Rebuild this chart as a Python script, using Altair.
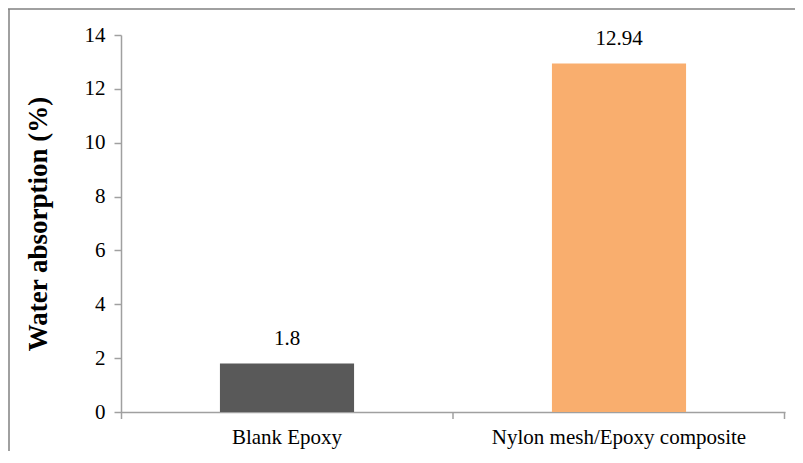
import altair as alt
import pandas as pd

categories = ["Blank Epoxy", "Nylon mesh/Epoxy composite"]
values = [1.8, 12.94]
colors = ["#595959", "#F9AE6E"]
y_ticks = [0, 2, 4, 6, 8, 10, 12, 14]

df = pd.DataFrame({"cat": categories, "val": values, "color": colors})

FONT = "Liberation Serif"
AX = "#A0A0A0"
W, H = 664, 377
PL, PT, PR, PB = 113, 27, 10, 39

x_enc = alt.X("cat:N", sort=categories,
              scale=alt.Scale(paddingInner=0.596, paddingOuter=0.298),
              axis=alt.Axis(title=None, labelAngle=0, ticks=False, domain=True,
                            domainColor=AX, domainWidth=1.5, labelFont=FONT,
                            labelFontSize=21, labelColor="#000000", labelPadding=14,
                            labelLimit=0))
y_enc = alt.Y("val:Q", scale=alt.Scale(domain=[0, 14], nice=False),
              axis=alt.Axis(title="Water absorption (%)", values=y_ticks, grid=False,
                            domainColor=AX, domainWidth=1.5, tickColor=AX, tickWidth=1.5,
                            tickSize=7, labelFont=FONT, labelFontSize=21,
                            labelColor="#000000", labelPadding=9,
                            titleFont=FONT, titleFontSize=27, titleFontWeight="bold",
                            titleColor="#000000", titlePadding=32))

bars = alt.Chart(df).mark_bar().encode(
    x=x_enc, y=y_enc,
    color=alt.Color("color:N", scale=None),
)
labels = alt.Chart(df).mark_text(dy=-15, baseline="bottom", font=FONT, fontSize=21,
                                 color="#000000").encode(
    x=alt.X("cat:N", sort=categories), y="val:Q", text=alt.Text("val:Q"))

tick_df = pd.DataFrame({"p": [0]})
xticks = [
    alt.Chart(tick_df).mark_rule(color=AX, strokeWidth=1.5).encode(
        x=alt.value(px), y=alt.value(H), y2=alt.value(H + 7))
    for px in [0.5, W / 2, W - 0.5]
]
frame_top = alt.Chart(tick_df).mark_rule(color="#808080", strokeWidth=1.5).encode(
    x=alt.value(-PL), x2=alt.value(W + PR), y=alt.value(-PT + 1))
frame_left = alt.Chart(tick_df).mark_rule(color="#808080", strokeWidth=1.5).encode(
    x=alt.value(-PL + 1), y=alt.value(-PT + 1), y2=alt.value(H + PB))

chart = alt.layer(bars, labels, *xticks, frame_top, frame_left).properties(
    width=W, height=H,
    padding={"left": PL, "top": PT, "right": PR, "bottom": PB},
    autosize=alt.AutoSizeParams(type="none"),
    view=alt.ViewBackground(stroke="transparent", strokeWidth=0),
).configure(background="#FFFFFF", font=FONT,
            view=alt.ViewConfig(stroke="transparent", strokeWidth=0))

chart.save("out.html", embed_options={"renderer": "svg", "actions": False})
